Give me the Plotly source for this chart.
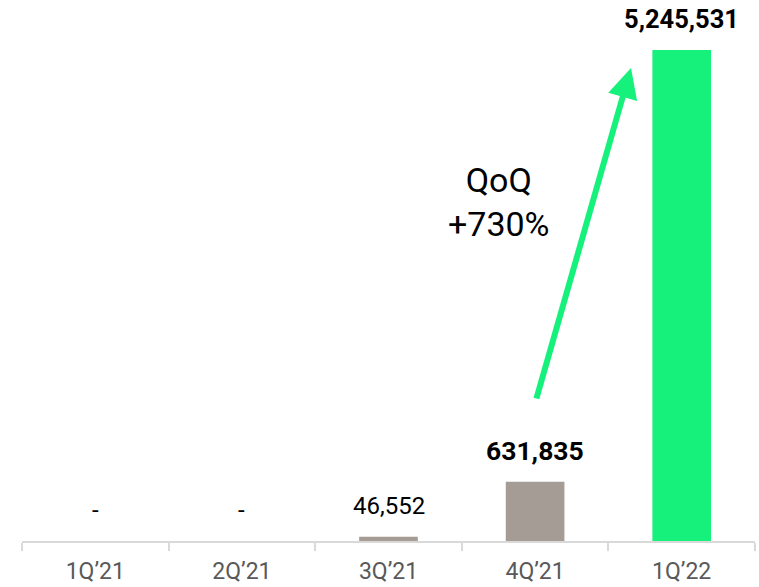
import plotly.graph_objects as go

quarters = ["1Q’21", "2Q’21", "3Q’21", "4Q’21", "1Q’22"]
values = [0, 0, 46552, 631835, 5245531]
growth_label = "QoQ<br>+730%"

GRAY = "#A59C96"
GREEN = "#16F17C"
bar_colors = [GRAY, GRAY, GRAY, GRAY, GREEN]
bold_flags = [False, False, False, True, True]
label_sizes = [24, 24, 24, 26.5, 25.5]

fig = go.Figure()
fig.add_trace(go.Bar(
    x=quarters, y=values, marker=dict(color=bar_colors, line=dict(width=0)),
    width=0.40, hoverinfo="skip",
))

for q, v, b, s in zip(quarters, values, bold_flags, label_sizes):
    txt = f"{v:,}" if v > 0 else "-"
    if b:
        txt = f"<b>{txt}</b>"
    fig.add_annotation(x=q, y=v, text=txt, showarrow=False, yanchor="middle",
                       yshift=31, font=dict(family="Roboto", size=s, color="#000000"))

# growth arrow from 4Q'21 to 1Q'22
fig.add_annotation(x=3.654, y=5053000, ax=3.006, ay=1506000, xref="x", yref="y",
                   axref="x", ayref="y", text="", showarrow=True, arrowhead=2,
                   arrowsize=1.0, arrowwidth=6, arrowcolor=GREEN)
fig.add_annotation(x=2.752, y=3626000, text=growth_label, showarrow=False,
                   font=dict(family="Roboto", size=34, color="#000000"), align="center")

fig.update_layout(
    width=759, height=587, margin=dict(l=22, r=4, t=10, b=46),
    paper_bgcolor="white", plot_bgcolor="white", showlegend=False,
    xaxis=dict(type="category", tickson="boundaries", ticks="outside", ticklen=8,
               tickwidth=2, tickcolor="#D9D9D9", showline=True, linecolor="#D9D9D9",
               linewidth=2, showgrid=False, ticklabelstandoff=8,
               tickfont=dict(family="Roboto", size=23, color="#595959"),
               fixedrange=True, automargin=False),
    yaxis=dict(range=[0, 5672856], visible=False, showgrid=False, zeroline=False, fixedrange=True),
    bargap=0.6,
)

fig.write_html("out.html", config={"displayModeBar": False},
               post_script="document.body.style.margin='0px';")
